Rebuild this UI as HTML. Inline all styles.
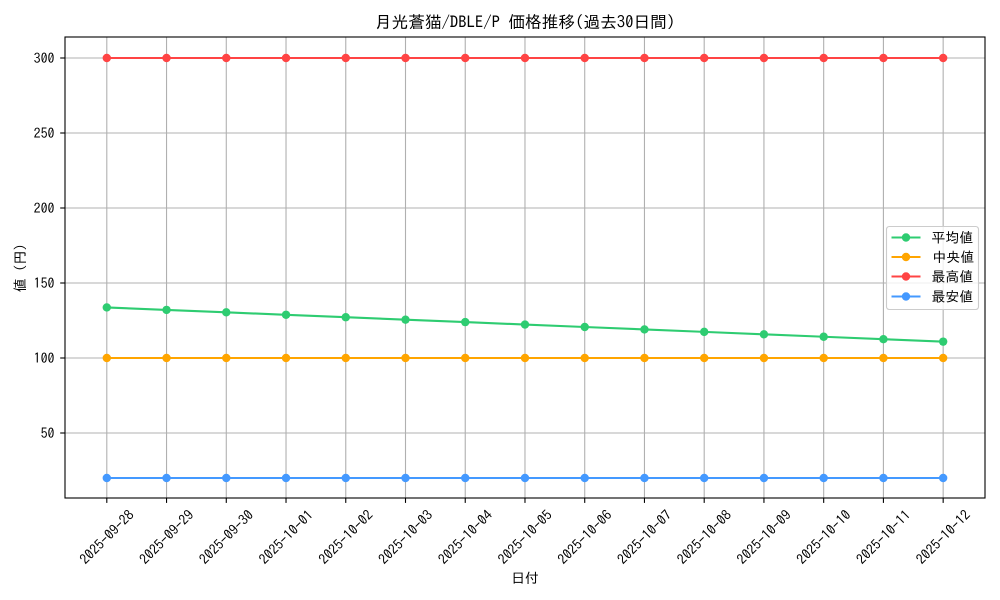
<!DOCTYPE html>
<html>
<head>
<meta charset="utf-8">
<style>
html,body{margin:0;padding:0;background:#fff;}
svg{display:block;font-family:"IPAGothic","Liberation Sans","Noto Sans CJK JP",sans-serif;}
</style>
</head>
<body>
<svg width="1000" height="600" viewBox="0 0 1000 600" xmlns="http://www.w3.org/2000/svg">
<rect x="0" y="0" width="1000" height="600" fill="#fff"/>
<!-- grid -->
<g stroke="#b0b0b0" stroke-width="1.1">
<line x1="106.8" y1="37" x2="106.8" y2="498"/>
<line x1="166.54" y1="37" x2="166.54" y2="498"/>
<line x1="226.28" y1="37" x2="226.28" y2="498"/>
<line x1="286.02" y1="37" x2="286.02" y2="498"/>
<line x1="345.76" y1="37" x2="345.76" y2="498"/>
<line x1="405.5" y1="37" x2="405.5" y2="498"/>
<line x1="465.24" y1="37" x2="465.24" y2="498"/>
<line x1="524.98" y1="37" x2="524.98" y2="498"/>
<line x1="584.72" y1="37" x2="584.72" y2="498"/>
<line x1="644.46" y1="37" x2="644.46" y2="498"/>
<line x1="704.2" y1="37" x2="704.2" y2="498"/>
<line x1="763.94" y1="37" x2="763.94" y2="498"/>
<line x1="823.68" y1="37" x2="823.68" y2="498"/>
<line x1="883.42" y1="37" x2="883.42" y2="498"/>
<line x1="943.16" y1="37" x2="943.16" y2="498"/>
<line x1="65" y1="433" x2="985" y2="433"/>
<line x1="65" y1="358" x2="985" y2="358"/>
<line x1="65" y1="283" x2="985" y2="283"/>
<line x1="65" y1="208" x2="985" y2="208"/>
<line x1="65" y1="133" x2="985" y2="133"/>
<line x1="65" y1="58" x2="985" y2="58"/>
</g>
<!-- series -->
<g stroke-width="2.1" fill="none" stroke-linejoin="round" stroke-linecap="square">
<polyline stroke="#2ecc71" points="106.8,307.45 166.54,309.89 226.28,312.34 286.02,314.78 345.76,317.22 405.5,319.66 465.24,322.11 524.98,324.55 584.72,326.99 644.46,329.44 704.2,331.88 763.94,334.32 823.68,336.76 883.42,339.21 943.16,341.65"/>
<polyline stroke="#ffa500" points="106.8,358 943.16,358"/>
<polyline stroke="#ff4444" points="106.8,58 943.16,58"/>
<polyline stroke="#4499ff" points="106.8,478 943.16,478"/>
</g>
<g fill="#2ecc71">
<circle cx="106.8" cy="307.45" r="4.2"/><circle cx="166.54" cy="309.89" r="4.2"/><circle cx="226.28" cy="312.34" r="4.2"/><circle cx="286.02" cy="314.78" r="4.2"/><circle cx="345.76" cy="317.22" r="4.2"/><circle cx="405.5" cy="319.66" r="4.2"/><circle cx="465.24" cy="322.11" r="4.2"/><circle cx="524.98" cy="324.55" r="4.2"/><circle cx="584.72" cy="326.99" r="4.2"/><circle cx="644.46" cy="329.44" r="4.2"/><circle cx="704.2" cy="331.88" r="4.2"/><circle cx="763.94" cy="334.32" r="4.2"/><circle cx="823.68" cy="336.76" r="4.2"/><circle cx="883.42" cy="339.21" r="4.2"/><circle cx="943.16" cy="341.65" r="4.2"/>
</g>
<g fill="#ffa500">
<circle cx="106.8" cy="358" r="4.2"/><circle cx="166.54" cy="358" r="4.2"/><circle cx="226.28" cy="358" r="4.2"/><circle cx="286.02" cy="358" r="4.2"/><circle cx="345.76" cy="358" r="4.2"/><circle cx="405.5" cy="358" r="4.2"/><circle cx="465.24" cy="358" r="4.2"/><circle cx="524.98" cy="358" r="4.2"/><circle cx="584.72" cy="358" r="4.2"/><circle cx="644.46" cy="358" r="4.2"/><circle cx="704.2" cy="358" r="4.2"/><circle cx="763.94" cy="358" r="4.2"/><circle cx="823.68" cy="358" r="4.2"/><circle cx="883.42" cy="358" r="4.2"/><circle cx="943.16" cy="358" r="4.2"/>
</g>
<g fill="#ff4444">
<circle cx="106.8" cy="58" r="4.2"/><circle cx="166.54" cy="58" r="4.2"/><circle cx="226.28" cy="58" r="4.2"/><circle cx="286.02" cy="58" r="4.2"/><circle cx="345.76" cy="58" r="4.2"/><circle cx="405.5" cy="58" r="4.2"/><circle cx="465.24" cy="58" r="4.2"/><circle cx="524.98" cy="58" r="4.2"/><circle cx="584.72" cy="58" r="4.2"/><circle cx="644.46" cy="58" r="4.2"/><circle cx="704.2" cy="58" r="4.2"/><circle cx="763.94" cy="58" r="4.2"/><circle cx="823.68" cy="58" r="4.2"/><circle cx="883.42" cy="58" r="4.2"/><circle cx="943.16" cy="58" r="4.2"/>
</g>
<g fill="#4499ff">
<circle cx="106.8" cy="478" r="4.2"/><circle cx="166.54" cy="478" r="4.2"/><circle cx="226.28" cy="478" r="4.2"/><circle cx="286.02" cy="478" r="4.2"/><circle cx="345.76" cy="478" r="4.2"/><circle cx="405.5" cy="478" r="4.2"/><circle cx="465.24" cy="478" r="4.2"/><circle cx="524.98" cy="478" r="4.2"/><circle cx="584.72" cy="478" r="4.2"/><circle cx="644.46" cy="478" r="4.2"/><circle cx="704.2" cy="478" r="4.2"/><circle cx="763.94" cy="478" r="4.2"/><circle cx="823.68" cy="478" r="4.2"/><circle cx="883.42" cy="478" r="4.2"/><circle cx="943.16" cy="478" r="4.2"/>
</g>
<!-- spines -->
<rect x="65" y="37" width="920" height="461" fill="none" stroke="#000" stroke-width="1.1"/>
<!-- ticks -->
<g stroke="#000" stroke-width="1.1">
<line x1="60.2" y1="433" x2="65" y2="433"/>
<line x1="60.2" y1="358" x2="65" y2="358"/>
<line x1="60.2" y1="283" x2="65" y2="283"/>
<line x1="60.2" y1="208" x2="65" y2="208"/>
<line x1="60.2" y1="133" x2="65" y2="133"/>
<line x1="60.2" y1="58" x2="65" y2="58"/>
<line x1="106.8" y1="498" x2="106.8" y2="502.9"/>
<line x1="166.54" y1="498" x2="166.54" y2="502.9"/>
<line x1="226.28" y1="498" x2="226.28" y2="502.9"/>
<line x1="286.02" y1="498" x2="286.02" y2="502.9"/>
<line x1="345.76" y1="498" x2="345.76" y2="502.9"/>
<line x1="405.5" y1="498" x2="405.5" y2="502.9"/>
<line x1="465.24" y1="498" x2="465.24" y2="502.9"/>
<line x1="524.98" y1="498" x2="524.98" y2="502.9"/>
<line x1="584.72" y1="498" x2="584.72" y2="502.9"/>
<line x1="644.46" y1="498" x2="644.46" y2="502.9"/>
<line x1="704.2" y1="498" x2="704.2" y2="502.9"/>
<line x1="763.94" y1="498" x2="763.94" y2="502.9"/>
<line x1="823.68" y1="498" x2="823.68" y2="502.9"/>
<line x1="883.42" y1="498" x2="883.42" y2="502.9"/>
<line x1="943.16" y1="498" x2="943.16" y2="502.9"/>
</g>
<!-- y tick labels -->
<g font-size="13.9" fill="#000" text-anchor="end" dominant-baseline="central">
<text x="54.5" y="433">50</text>
<text x="54.5" y="358">100</text>
<text x="54.5" y="283">150</text>
<text x="54.5" y="208">200</text>
<text x="54.5" y="133">250</text>
<text x="54.5" y="58">300</text>
</g>
<!-- x tick labels -->
<g font-size="13.9" fill="#000" text-anchor="middle" dominant-baseline="central">
<text x="106.8" y="537" transform="rotate(-45 106.8 537)">2025-09-28</text>
<text x="166.54" y="537" transform="rotate(-45 166.54 537)">2025-09-29</text>
<text x="226.28" y="537" transform="rotate(-45 226.28 537)">2025-09-30</text>
<text x="286.02" y="537" transform="rotate(-45 286.02 537)">2025-10-01</text>
<text x="345.76" y="537" transform="rotate(-45 345.76 537)">2025-10-02</text>
<text x="405.5" y="537" transform="rotate(-45 405.5 537)">2025-10-03</text>
<text x="465.24" y="537" transform="rotate(-45 465.24 537)">2025-10-04</text>
<text x="524.98" y="537" transform="rotate(-45 524.98 537)">2025-10-05</text>
<text x="584.72" y="537" transform="rotate(-45 584.72 537)">2025-10-06</text>
<text x="644.46" y="537" transform="rotate(-45 644.46 537)">2025-10-07</text>
<text x="704.2" y="537" transform="rotate(-45 704.2 537)">2025-10-08</text>
<text x="763.94" y="537" transform="rotate(-45 763.94 537)">2025-10-09</text>
<text x="823.68" y="537" transform="rotate(-45 823.68 537)">2025-10-10</text>
<text x="883.42" y="537" transform="rotate(-45 883.42 537)">2025-10-11</text>
<text x="943.16" y="537" transform="rotate(-45 943.16 537)">2025-10-12</text>
</g>
<!-- axis labels -->
<text x="525" y="583" font-size="13.9" text-anchor="middle" fill="#000">日付</text>
<text x="20" y="268" font-size="13.9" text-anchor="middle" dominant-baseline="central" fill="#000" transform="rotate(-90 20 268)">値 (円)</text>
<!-- title -->
<text x="525" y="28" font-size="16.7" text-anchor="middle" fill="#000">月光蒼猫/DBLE/P 価格推移(過去30日間)</text>
<!-- legend -->
<rect x="886.5" y="226.5" width="92" height="83" rx="2.8" ry="2.8" fill="#fff" fill-opacity="0.8" stroke="#cccccc" stroke-width="1.1"/>
<g stroke-width="2.1">
<line x1="891.5" y1="237.5" x2="920.5" y2="237.5" stroke="#2ecc71"/>
<line x1="891.5" y1="257" x2="920.5" y2="257" stroke="#ffa500"/>
<line x1="891.5" y1="276.5" x2="920.5" y2="276.5" stroke="#ff4444"/>
<line x1="891.5" y1="296.5" x2="920.5" y2="296.5" stroke="#4499ff"/>
</g>
<circle cx="906" cy="237.5" r="4.2" fill="#2ecc71"/>
<circle cx="906" cy="257" r="4.2" fill="#ffa500"/>
<circle cx="906" cy="276.5" r="4.2" fill="#ff4444"/>
<circle cx="906" cy="296.5" r="4.2" fill="#4499ff"/>
<g font-size="13.9" fill="#000" dominant-baseline="central">
<text x="931.5" y="237.5">平均値</text>
<text x="932.5" y="257">中央値</text>
<text x="931.5" y="276.5">最高値</text>
<text x="931.5" y="296.5">最安値</text>
</g>
</svg>
</body>
</html>
